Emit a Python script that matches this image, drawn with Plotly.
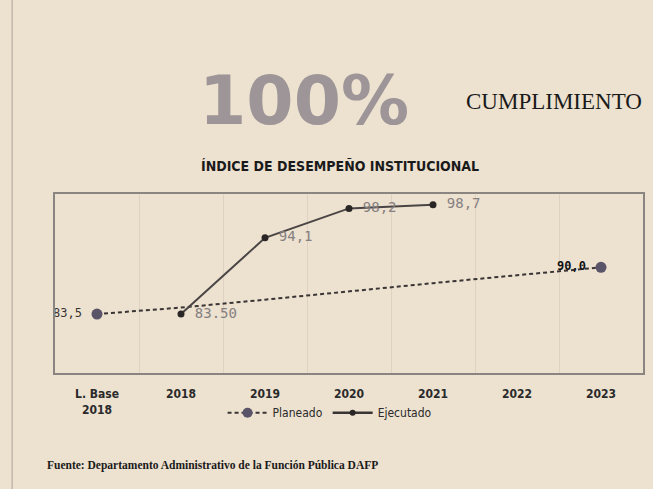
import plotly.graph_objects as go

categories = ["L. Base<br>2018", "2018", "2019", "2020", "2021", "2022", "2023"]
planeado = [83.5, 84.4, 85.5, 86.7, 87.8, 88.9, 90.0]
planeado_labels = ["83,5", "", "", "", "", "", "<b>90,0</b>"]
ejecutado = [None, 83.5, 94.1, 98.2, 98.7, None, None]
ejecutado_labels = ["", "83.50", "94,1", "98,2", "98,7", "", ""]

BG = "#EDE1D0"
fig = go.Figure()

# Planeado dashed line
fig.add_trace(go.Scatter(
    x=categories, y=planeado, mode="lines", showlegend=False,
    line=dict(color="#3a3535", width=2, dash="4px,3px"), hoverinfo="skip"))
# Planeado endpoint markers + labels
end_idx = [0, len(categories) - 1]
fig.add_trace(go.Scatter(
    x=[categories[i] for i in end_idx], y=[planeado[i] for i in end_idx],
    mode="markers+text", showlegend=False, cliponaxis=False,
    text=[planeado_labels[i] + " " for i in end_idx], textposition="middle left",
    textfont=dict(family="DejaVu Sans Mono", size=12, color=["#3a3535", "#111111"]),
    marker=dict(size=11, color="#5a5468")))

# Ejecutado
fig.add_trace(go.Scatter(
    x=categories, y=ejecutado, mode="lines+markers+text", showlegend=False, cliponaxis=False,
    text=[" " + t if t else "" for t in ejecutado_labels], textposition="middle right",
    textfont=dict(family="DejaVu Sans Mono", size=14, color="#858080"),
    line=dict(color="#4a4545", width=2),
    marker=dict(size=7, color="#2a2626")))

# legend entries
fig.add_trace(go.Scatter(x=[None], y=[None], mode="lines+markers", name="Planeado",
                         line=dict(color="#3a3535", width=2, dash="4px,3px"),
                         marker=dict(size=10, color="#5a5468")))
fig.add_trace(go.Scatter(x=[None], y=[None], mode="lines+markers", name="Ejecutado",
                         line=dict(color="#3a3535", width=2.5),
                         marker=dict(size=6, color="#2a2626")))

fig.update_layout(
    width=653, height=489,
    margin=dict(l=55, r=8, t=194, b=116),
    paper_bgcolor=BG, plot_bgcolor=BG,
    showlegend=True,
    legend=dict(orientation="h", x=(331 - 55) / 590, xanchor="center", y=-0.222, yanchor="middle",
                font=dict(family="DejaVu Sans Condensed, DejaVu Sans", size=12, color="#2a2a2a"),
                bgcolor="rgba(0,0,0,0)", itemwidth=40, tracegroupgap=0),
    xaxis=dict(range=[-0.5, 6.5], showgrid=True, gridcolor="rgba(120,110,100,0.12)",
               tickson="boundaries", ticks="", ticklabelstandoff=9,
               showline=True, linecolor="#8a8580", linewidth=1.5, mirror=True,
               tickfont=dict(family="DejaVu Sans Condensed, DejaVu Sans", size=12,
                             color="#2a2a2a", weight="bold"),
               zeroline=False),
    yaxis=dict(range=[75.3, 100.2], showgrid=False, showticklabels=False, ticks="",
               showline=True, linecolor="#8a8580", linewidth=1.5, mirror=True, zeroline=False),
    annotations=[
        dict(text="<b>100%</b>", x=(305 - 55) / 590, y=(373 - 100) / 179, xref="paper", yref="paper",
             xanchor="center", yanchor="middle", showarrow=False,
             font=dict(family="DejaVu Sans", size=68, color="#9d9597")),
        dict(text="CUMPLIMIENTO", x=(465 - 55) / 590, y=(373 - 101) / 179, xref="paper", yref="paper",
             xanchor="left", yanchor="middle", showarrow=False,
             font=dict(family="Liberation Serif", size=23, color="#1a1a1a")),
        dict(text="<b>ÍNDICE DE DESEMPEÑO INSTITUCIONAL</b>", x=(341 - 55) / 590, y=(373 - 166) / 179,
             xref="paper", yref="paper", xanchor="center", yanchor="middle", showarrow=False,
             font=dict(family="DejaVu Sans Condensed, DejaVu Sans", size=14, color="#1a1a1a")),
        dict(text="<b>Fuente: Departamento Administrativo de la Función Pública DAFP</b>",
             x=(45 - 55) / 590, y=(373 - 465) / 179, xref="paper", yref="paper",
             xanchor="left", yanchor="middle", showarrow=False,
             font=dict(family="Liberation Serif", size=11.5, color="#1a1a1a")),
    ],
    shapes=[
        dict(type="line", xref="paper", yref="paper", x0=(12 - 55) / 590, x1=(12 - 55) / 590,
             y0=-1.0, y1=2.1, line=dict(color="rgba(120,110,100,0.35)", width=1.5)),
    ],
)

fig.write_html("out.html", config={"displayModeBar": False},
               post_script="document.body.style.margin='0';document.body.style.padding='0';")
